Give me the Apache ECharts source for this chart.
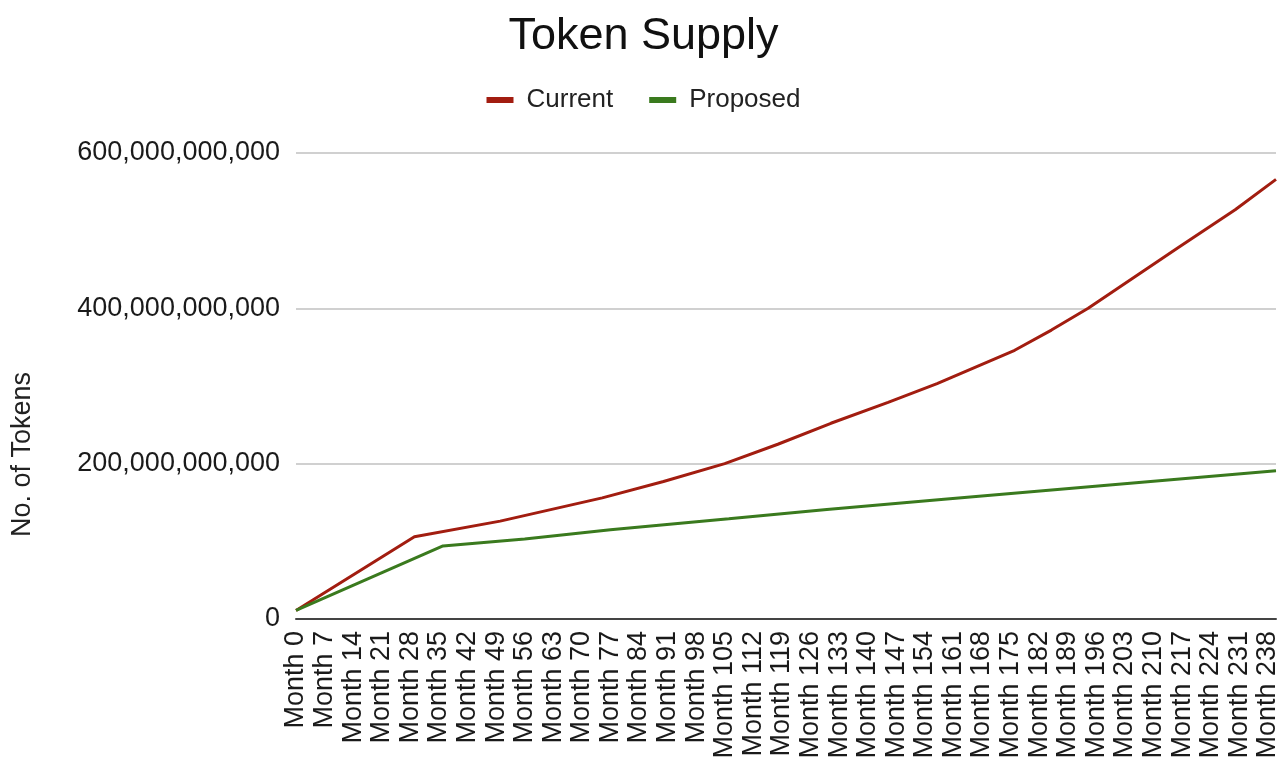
<!DOCTYPE html>
<html>
<head>
<meta charset="utf-8">
<script src="https://cdn.jsdelivr.net/npm/echarts@6/dist/echarts.min.js"></script>
<style>
  html, body { margin: 0; padding: 0; background: #fff; }
  #chart { width: 1287px; height: 762px; }
</style>
</head>
<body>
<div id="chart"></div>
<script>
// Values (month, tokens in billions)
const currentMonths = [0, 29, 50, 75, 90, 105, 118, 131, 145, 157, 176, 185, 194, 216, 230, 240];
const currentValues = [11, 106, 126, 156, 177, 200, 225, 252, 279, 303, 346, 372, 400, 478, 527, 566];
const proposedMonths = [0, 36, 56, 77, 106, 130, 158, 200, 240];
const proposedValues = [11, 94, 103, 115, 129, 141, 154, 173, 191];
const seriesNames = ['Current', 'Proposed'];
const yTicks = [0, 200e9, 400e9, 600e9];

const BILLION = 1e9;
const pairs = (ms, vs) => ms.map((m, i) => [m, vs[i] * BILLION]);

const FONT = 'Liberation Sans, Arial, Helvetica, sans-serif';
const chart = echarts.init(document.getElementById('chart'), null, { renderer: 'canvas' });

chart.setOption({
  backgroundColor: '#ffffff',
  animation: false,
  title: {
    text: 'Token Supply',
    left: 'center',
    top: 9,
    textStyle: { fontFamily: FONT, fontSize: 45, fontWeight: 'normal', color: '#111' }
  },
  legend: {
    data: seriesNames,
    top: 82,
    left: 'center',
    icon: 'rect',
    itemWidth: 27,
    itemHeight: 6,
    itemGap: 36,
    textStyle: { fontFamily: FONT, fontSize: 26, color: '#222', padding: [0, 0, 0, 8] }
  },
  graphic: [{
    type: 'text',
    x: 9,
    y: 537,
    rotation: Math.PI / 2,
    style: { text: 'No. of Tokens', fontFamily: FONT, fontSize: 27, fill: '#222' }
  }],
  grid: { left: 296, right: 11, top: 153, bottom: 143, containLabel: false },
  xAxis: {
    type: 'value',
    min: 0,
    max: 240,
    interval: 7,
    axisLine: { show: true, onZero: false, lineStyle: { color: '#444', width: 2 } },
    axisTick: { show: false },
    splitLine: { show: false },
    axisLabel: {
      rotate: 90,
      margin: 12,
      showMaxLabel: false,
      fontFamily: FONT,
      fontSize: 27,
      color: '#1a1a1a',
      formatter: v => 'Month ' + v
    }
  },
  yAxis: {
    type: 'value',
    min: yTicks[0],
    max: yTicks[yTicks.length - 1],
    interval: yTicks[1] - yTicks[0],
    axisLine: { show: false },
    axisTick: { show: false },
    splitLine: { show: true, lineStyle: { color: '#d0d0d0', width: 2 } },
    axisLabel: {
      margin: 16,
      fontFamily: FONT,
      fontSize: 27,
      color: '#1a1a1a',
      formatter: v => v.toLocaleString('en-US')
    }
  },
  series: [
    {
      name: seriesNames[0],
      type: 'line',
      showSymbol: false,
      color: '#a21d10',
      lineStyle: { width: 3, color: '#a21d10' },
      data: pairs(currentMonths, currentValues)
    },
    {
      name: seriesNames[1],
      type: 'line',
      showSymbol: false,
      color: '#3a7a1e',
      lineStyle: { width: 3, color: '#3a7a1e' },
      data: pairs(proposedMonths, proposedValues)
    }
  ]
});
</script>
</body>
</html>
